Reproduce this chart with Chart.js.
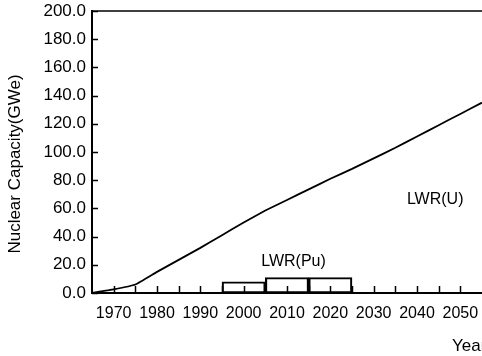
<!DOCTYPE html>
<html>
<head>
<meta charset="utf-8">
<script src="https://cdn.jsdelivr.net/npm/chart.js@4.4.0/dist/chart.umd.min.js"></script>
<style>
html,body{margin:0;padding:0;background:#fff;}
</style>
</head>
<body>
<canvas id="myChart" width="482" height="356"></canvas>
<script>
// values
var years = [1965, 1970, 1975, 1980, 1985, 1990, 1995, 2000, 2005, 2010, 2015, 2020, 2025, 2030, 2035, 2040, 2045, 2050, 2055];
var lwrU = [0, 2.5, 6, 15, 23.5, 32, 41, 50, 58.5, 66, 73.5, 81, 88, 95.5, 103, 111, 119, 127, 135];
var puStart = [1995, 2005, 2015];
var puEnd = [2005, 2015, 2025];
var puCapacity = [8, 11, 11];
var yLabel = 'Nuclear Capacity(GWe)';
var xLabel = 'Year';

var FAMILY = "'Liberation Sans', Arial, sans-serif";

var ctx = document.getElementById('myChart').getContext('2d');

var uPoints = years.map(function (yr, i) { return { x: yr, y: lwrU[i] }; });
var puPoints = puStart.map(function (s, i) { return { x: (s + puEnd[i]) / 2, y: puCapacity[i] }; });

// inward tick marks (every 5 years / 20 GWe), top frame line and text labels
var extras = {
  id: 'extras',
  afterDraw: function (chart) {
    var c = chart.ctx, a = chart.chartArea, xs = chart.scales.x, ys = chart.scales.y;
    c.save();
    c.strokeStyle = '#000';
    c.lineWidth = 1.5;
    c.beginPath();
    ys.ticks.forEach(function (t) {
      var py = Math.round(ys.getPixelForValue(t.value)) + 0.5;
      c.moveTo(a.left, py); c.lineTo(a.left + 6, py);
    });
    for (var yr = xs.min + 5; yr < xs.max; yr += 5) {
      var px = Math.round(xs.getPixelForValue(yr)) + 0.5;
      c.moveTo(px, a.bottom); c.lineTo(px, a.bottom - 7);
    }
    c.moveTo(a.left, a.top); c.lineTo(a.right, a.top);
    c.stroke();

    c.fillStyle = '#000';
    c.font = '16px ' + FAMILY;
    c.textAlign = 'center';
    c.textBaseline = 'middle';
    c.fillText('LWR(U)', xs.getPixelForValue(2044.2), ys.getPixelForValue(66));
    c.fillText('LWR(Pu)', xs.getPixelForValue(2011.5), ys.getPixelForValue(22));
    c.textAlign = 'left';
    c.textBaseline = 'alphabetic';
    c.font = '17px ' + FAMILY;
    c.fillText(xLabel, 452, 351);

    c.translate(15, 164);
    c.rotate(-Math.PI / 2);
    c.textAlign = 'center';
    c.textBaseline = 'middle';
    c.fillText(yLabel, 0, 0);
    c.restore();
  }
};

var chart = new Chart(ctx, {
  type: 'bar',
  data: {
    datasets: [{
      type: 'line',
      label: 'LWR(U)',
      data: uPoints,
      borderColor: '#000',
      borderWidth: 1.8,
      pointRadius: 0,
      fill: false,
      tension: 0.1
    }, {
      type: 'bar',
      label: 'LWR(Pu)',
      data: puPoints,
      backgroundColor: 'rgba(0,0,0,0)',
      borderColor: '#000',
      borderWidth: 1.5,
      borderSkipped: false,
      barPercentage: 1,
      categoryPercentage: 1
    }]
  },
  options: {
    responsive: false,
    animation: false,
    devicePixelRatio: 1,
    layout: { padding: { top: 11, right: 0, left: 0, bottom: 0 } },
    plugins: { legend: { display: false }, tooltip: { enabled: false } },
    scales: {
      x: {
        type: 'linear',
        min: 1965,
        max: 2055,
        offset: false,
        grid: { display: false, drawTicks: false, offset: false },
        border: { display: true, color: '#000', width: 2 },
        ticks: {
          autoSkip: false,
          maxRotation: 0,
          padding: 11,
          color: '#000',
          font: { family: FAMILY, size: 16 },
          callback: function (v) { return String(v); }
        },
        afterBuildTicks: function (s) {
          var t = [];
          for (var yr = 1970; yr <= 2050; yr += 10) t.push({ value: yr });
          s.ticks = t;
        },
        afterFit: function (s) {
          s.height = 63;
          s.paddingLeft = 0;
          s.paddingRight = 0;
        }
      },
      y: {
        min: 0,
        max: 200,
        grid: { display: false, drawTicks: false },
        border: { display: true, color: '#000', width: 2 },
        ticks: {
          stepSize: 20,
          padding: 6,
          color: '#000',
          font: { family: FAMILY, size: 17 },
          callback: function (v) { return v.toFixed(1); }
        },
        afterFit: function (s) {
          s.width = 92;
          s.paddingTop = 0;
          s.paddingBottom = 0;
        }
      }
    }
  },
  plugins: [extras]
});
</script>
</body>
</html>
